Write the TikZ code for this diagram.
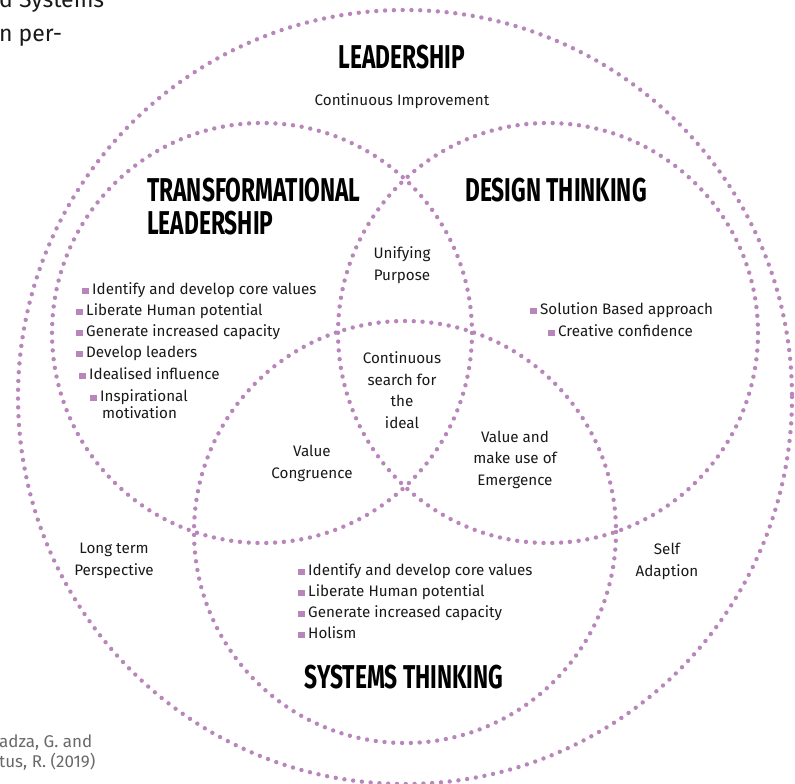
\documentclass[tikz,border=0pt]{standalone}
\usepackage{fontspec}
\setmainfont{Fira Sans}
\newfontfamily\headfont[FakeStretch=0.69]{Fira Sans}
\usetikzlibrary{positioning}
\definecolor{orchid}{RGB}{184,134,186}
\definecolor{ink}{RGB}{25,25,25}
\definecolor{inkgray}{RGB}{105,105,105}
\newcommand{\sqb}{\textcolor{orchid}{\rule{6.5pt}{6.5pt}}\hspace{3.5pt}}
\tikzset{
  ring/.style={draw=orchid, line width=4.4pt, line cap=round, dash pattern=on 0pt off 8.8pt},
  heading/.style={font=\headfont\bfseries\fontsize{33}{33}\selectfont, text=black, inner sep=0pt},
  areatext/.style={font=\fontsize{15.2}{21.5}\selectfont, text=ink, align=center, inner sep=0pt, anchor=base},
  itemtext/.style={font=\fontsize{15.2}{17}\selectfont, text=ink, align=left, inner sep=0pt, anchor=base west},
  pagetext/.style={font=\fontsize{23}{23}\selectfont, text=ink, inner sep=0pt, anchor=base west},
  reftext/.style={font=\fontsize{17}{17}\selectfont, text=inkgray, inner sep=0pt, anchor=base west}
}

\begin{document}
\begin{tikzpicture}[x=1pt, y=-1pt]
  \useasboundingbox (0,0) rectangle (795,784);
  \coordinate (outerc) at (405,397);
  \coordinate (transc) at (262,333);
  \coordinate (designc) at (548,333);
  \coordinate (systemc) at (405,532);
  \draw[ring] (outerc) circle (387);
  \draw[ring] (transc) circle (210);
  \draw[ring] (designc) circle (210);
  \draw[ring] (systemc) circle (211);

  \node[heading, anchor=base] (leadhead) at (402,68) {LEADERSHIP};
  \node[heading, anchor=base west, align=left] (transhead) at (147,234) {TRANSFORMATIONAL\\LEADERSHIP};
  \node[heading, anchor=base] (designhead) at (556,201) {DESIGN THINKING};
  \node[heading, anchor=base] (systemhead) at (404,688) {SYSTEMS THINKING};

  \node[areatext] (contimp) at (402,105) {Continuous Improvement};
  \node[areatext] (unify) at (402,280) {Unifying\\Purpose};
  \node[areatext] (ideal) at (402,428) {Continuous\\search for\\the\\ideal};
  \node[areatext] (congr) at (312,478) {Value\\Congruence};
  \node[areatext] (emerg) at (515,485) {Value and\\make use of\\Emergence};
  \node[areatext] (longterm) at (114,575) {Long term\\Perspective};
  \node[areatext] (selfad) at (667,576) {Self\\Adaption};

  \foreach \x/\y/\t [count=\i] in {82/294/Identify and develop core values,
      76/315/Liberate Human potential, 76/336/Generate increased capacity,
      76/357/Develop leaders, 79/379/Idealised influence}{
    \node[itemtext] (tl\i) at (\x,\y) {\sqb\t};
  }
  \node[itemtext] (tl6) at (90,418) {\sqb Inspirational\\\hspace*{12pt}motivation};
  \foreach \x/\y/\t [count=\i] in {530/314/Solution Based approach,
      548/336/Creative confidence}{
    \node[itemtext] (dt\i) at (\x,\y) {\sqb\t};
  }
  \foreach \y/\t [count=\i] in {575/Identify and develop core values,
      596/Liberate Human potential, 617/Generate increased capacity, 638/Holism}{
    \node[itemtext] (st\i) at (298,\y) {\sqb\t};
  }

  \node[pagetext] (pageA) at (-1,8) {d Systems};
  \node[pagetext] (pageB) at (-1,42) {n\hspace{6pt}per-};
  \node[reftext] (refA) at (-1,747) {adza, G. and};
  \node[reftext] (refB) at (-1,767) {tus, R. (2019)};
\end{tikzpicture}
\end{document}
